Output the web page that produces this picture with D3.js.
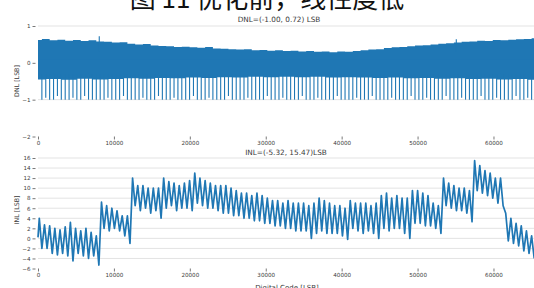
<!DOCTYPE html>
<html><head><meta charset="utf-8">
<script src="https://cdn.jsdelivr.net/npm/d3@7"></script>
<style>
body{margin:0;background:#fff;overflow:hidden;}
svg{display:block;}
</style></head><body>
<svg id="c" width="534" height="288"></svg>
<script>
// ---------- data ----------
const mainTitle = "图 11 优化前，线性度低";
const dnlTitle = "DNL=(-1.00, 0.72) LSB";
const inlTitle = "INL=(-5.32, 15.47)LSB";
const xLabel = "Digital Code [LSB]";
const dnlLabel = "DNL [LSB]";
const inlLabel = "INL [LSB]";
const xTicks = [0, 10000, 20000, 30000, 40000, 50000, 60000];
const dnlTicks = [1, 0, -1, -2];
const inlTicks = [16, 14, 12, 10, 8, 6, 4, 2, 0, -2, -4, -6];
const codeMax = 65535;
const segmentSize = 4096;

// INL: per 4096-code segment, alternating peak / trough values
const inlStart = 0.2;
const inlSegments = [
  [4, -2, 2.7, -2, 2.5, -3, 2, -3.3, 1.7, -3, 2.3, -3.5],
  [3.2, -4.5, 2, -3, 1.5, -3.5, 2, -4, 1.2, -3.5, 0.5, -5.32],
  [7.2, 2, 6.5, 1.5, 6, 2, 5.5, 1.5, 4.5, 0.5, 4.5, -1],
  [12, 6.5, 10.5, 5.5, 10.5, 6, 10, 5, 10, 5.5, 10, 4],
  [12, 6, 11.3, 6.5, 11, 5.5, 10.5, 6, 11, 6, 11.5, 5.5],
  [13, 7, 12, 6.5, 11.5, 6, 11, 6, 10.5, 5.5, 10.5, 5],
  [10.5, 5, 10, 4.5, 9.5, 4.5, 9, 4, 9, 4, 8.5, 3.5],
  [9, 3.5, 8.5, 3, 8, 3, 7.5, 2.5, 7.5, 2.5, 7, 2],
  [7.5, 2, 7, 1.5, 7, 1.5, 7, 1.5, 6.5, 0, 7, 1],
  [8, 1.5, 7.5, 1, 7, 1, 6.5, 1, 6.5, 0.5, 6, -0.2],
  [7.5, 2, 7, 1.5, 7, 1, 7, 1.5, 6.5, 1, 7, 0],
  [8.5, 2, 9, 1.5, 8, 2, 8.5, 2, 8, 1, 8, 0],
  [9.5, 3, 9.5, 3, 9, 2.5, 8.5, 2.5, 7, 2, 6.5, 1],
  [12, 6.5, 11, 6, 10.5, 5.5, 10, 5.5, 10, 5, 9.5, 3.3],
  [15.47, 9.5, 14.5, 9, 13.5, 8.5, 13, 8, 12, 7, 12, 6.5],
  [5, -0.5, 4, -1, 3, -1.5, 2.5, -2.5, 1.5, -3, 0.5, -4]
];

// DNL: upper edge of the dense band (every 1024 codes)
const dnlUpperStep = 1024;
const dnlUpper = [
  .62,.65,.61,.63,.60,.62,.59,.61,.58,
  .57,.55,.56,.52,.50,.51,.47,.46,
  .45,.43,.44,.42,.41,.43,.39,.38,
  .37,.36,.37,.34,.35,.33,.34,.32,
  .33,.31,.32,.30,.31,.29,.31,.30,
  .32,.34,.36,.37,.40,.42,.43,.45,
  .47,.48,.50,.52,.53,.55,.57,.58,
  .60,.59,.62,.61,.63,.64,.65,.67
];
// DNL: lower edge of the band (every 2048 codes)
const dnlLowerStep = 2048;
const dnlLower = [
  -0.45,-0.44,-0.46,-0.43,-0.45,-0.44,-0.42,-0.43,-0.41,-0.42,-0.40,-0.41,-0.39,-0.40,-0.38,-0.39,
  -0.38,-0.39,-0.38,-0.40,-0.39,-0.40,-0.41,-0.40,-0.42,-0.41,-0.43,-0.42,-0.44,-0.43,-0.45,-0.44,-0.46
];
// DNL: downward spikes every 512 codes
const dnlSpikeStep = 512;
const dnlSpikes = [
  -1,-0.95,-1,-1,-0.9,-1,-1,-1,-0.95,-1,-1,-0.9,-1,-1,-1,-1,
  -1,-0.95,-1,-1,-1,-0.9,-1,-1,-1,-1,-0.95,-1,-1,-1,-0.9,-1,
  -1,-1,-0.95,-1,-1,-1,-1,-0.9,-1,-1,-1,-0.95,-1,-1,-1,-1,
  -0.9,-1,-1,-1,-1,-0.95,-1,-1,-1,-1,-0.9,-1,-1,-1,-0.95,-1,
  -1,-1,-1,-0.9,-1,-1,-1,-0.95,-1,-1,-1,-1,-0.9,-1,-1,-1,
  -1,-0.95,-1,-1,-1,-0.9,-1,-1,-1,-1,-0.95,-1,-1,-1,-1,-0.9,
  -1,-1,-1,-0.95,-1,-1,-1,-1,-0.9,-1,-1,-1,-0.95,-1,-1,-1,
  -1,-0.9,-1,-1,-1,-0.95,-1,-1,-1,-1,-0.9,-1,-1,-0.95,-1,-1
];
const dnlPeakCodes = [8070, 55100];
const dnlPeakValues = [0.72, 0.64];

// ---------- drawing ----------
const svg = d3.select("#c");
const blue = "#1f77b4";
const txt = "#3a3a3a";
const grid = "#e3e3e3";
const tickFont = "DejaVu Sans, sans-serif";

const x = d3.scaleLinear().domain([0, codeMax]).range([38, 535.5]);
const yD = d3.scaleLinear().domain([-2, 1]).range([136.5, 26]);
const yI = d3.scaleLinear().domain([-6, 16]).range([268.5, 158]);

// main title (cut off at the top, as in the reference)
svg.append("text").attr("x", 267).attr("y", 8).attr("text-anchor", "middle")
  .attr("font-family", "Noto Sans CJK SC").attr("font-size", 26).attr("fill", "#111")
  .text(mainTitle);

function gridLines(y, ticks) {
  svg.append("g").selectAll("line").data(ticks).join("line")
    .attr("x1", x.range()[0]).attr("x2", x.range()[1])
    .attr("y1", d => y(d)).attr("y2", d => y(d))
    .attr("stroke", grid).attr("stroke-width", 1);
}
gridLines(yD, dnlTicks.slice(0, -1));
gridLines(yI, inlTicks.slice(0, -1));

function styleAxis(g) {
  g.select(".domain").remove();
  g.selectAll(".tick line").attr("stroke", "#555").attr("stroke-width", 0.8);
  g.selectAll(".tick text").attr("fill", txt).attr("font-family", tickFont).attr("font-size", 5.6);
}
svg.append("g").attr("transform", "translate(35.5,0)")
  .call(d3.axisLeft(yD).tickValues(dnlTicks).tickSize(3).tickPadding(2).tickFormat(d3.format("d")))
  .call(styleAxis);
svg.append("g").attr("transform", "translate(35.5,0)")
  .call(d3.axisLeft(yI).tickValues(inlTicks).tickSize(3).tickPadding(2).tickFormat(d3.format("d")))
  .call(styleAxis);
svg.append("g").attr("transform", `translate(0,${yD(-2)})`)
  .call(d3.axisBottom(x).tickValues(xTicks).tickSize(3).tickPadding(1.5).tickFormat(d3.format("d")))
  .call(styleAxis);
svg.append("g").attr("transform", `translate(0,${yI(-6)})`)
  .call(d3.axisBottom(x).tickValues(xTicks).tickSize(3).tickPadding(1.5).tickFormat(d3.format("d")))
  .call(styleAxis);

// titles & labels
svg.append("text").attr("x", 279).attr("y", 22).attr("text-anchor", "middle")
  .attr("font-family", tickFont).attr("font-size", 7.3).attr("fill", txt).text(dnlTitle);
svg.append("text").attr("x", 286).attr("y", 154.5).attr("text-anchor", "middle")
  .attr("font-family", tickFont).attr("font-size", 7.3).attr("fill", txt).text(inlTitle);
svg.append("text").attr("x", 287).attr("y", 290).attr("text-anchor", "middle")
  .attr("font-family", tickFont).attr("font-size", 7).attr("fill", txt).text(xLabel);
svg.append("text").attr("transform", "translate(19,81) rotate(-90)").attr("text-anchor", "middle")
  .attr("font-family", tickFont).attr("font-size", 6.3).attr("fill", txt).text(dnlLabel);
svg.append("text").attr("transform", "translate(19,210) rotate(-90)").attr("text-anchor", "middle")
  .attr("font-family", tickFont).attr("font-size", 6.3).attr("fill", txt).text(inlLabel);

// DNL band
const upperPts = dnlUpper.map((v, i) => [Math.min(i * dnlUpperStep, codeMax), v]);
const lowerPts = dnlLower.map((v, i) => [Math.min(i * dnlLowerStep, codeMax), v]);
svg.append("path").datum(upperPts)
  .attr("d", d3.area().x(d => x(d[0])).y0(yD(-0.1)).y1(d => yD(d[1])).curve(d3.curveStep))
  .attr("fill", blue);
svg.append("path").datum(lowerPts)
  .attr("d", d3.area().x(d => x(d[0])).y0(yD(0.1)).y1(d => yD(d[1])).curve(d3.curveStep))
  .attr("fill", blue);
svg.append("g").selectAll("line").data(dnlSpikes).join("line")
  .attr("x1", (d, i) => x((i + 1) * dnlSpikeStep - 1)).attr("x2", (d, i) => x((i + 1) * dnlSpikeStep - 1))
  .attr("y1", yD(-0.3)).attr("y2", d => yD(d))
  .attr("stroke", blue).attr("stroke-width", 1.1);
svg.append("g").selectAll("line").data(dnlPeakCodes).join("line")
  .attr("x1", d => x(d)).attr("x2", d => x(d))
  .attr("y1", yD(0.3)).attr("y2", (d, i) => yD(dnlPeakValues[i]))
  .attr("stroke", blue).attr("stroke-width", 1.1);

// INL line
const inlPts = [[0, inlStart]];
inlSegments.forEach((seg, s) => {
  seg.forEach((v, j) => {
    inlPts.push([s * segmentSize + (j + 0.5) * segmentSize / seg.length, v]);
  });
});
svg.append("path").datum(inlPts)
  .attr("d", d3.line().x(d => x(d[0])).y(d => yI(d[1])))
  .attr("fill", "none").attr("stroke", blue).attr("stroke-width", 1.7)
  .attr("stroke-linejoin", "round");
</script>
</body></html>
